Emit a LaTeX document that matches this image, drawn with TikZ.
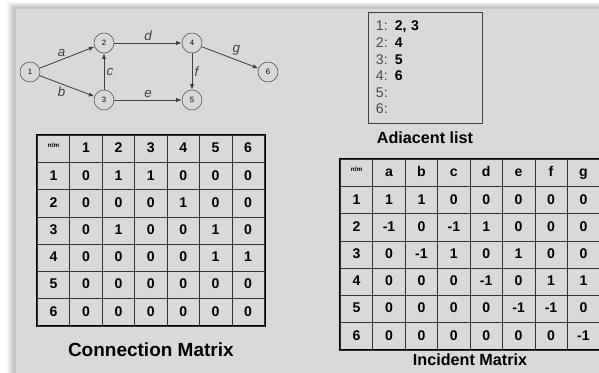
\documentclass[tikz,border=0pt]{standalone}
\usepackage{fontspec}
\setmainfont{Liberation Sans}
\usetikzlibrary{arrows.meta,positioning,matrix}
\definecolor{panelgrey}{HTML}{D9D9D9}
\definecolor{keygrey}{HTML}{4A4A4A}
\tikzset{
  vertex/.style={circle, draw=black!70, thin, fill=panelgrey, minimum size=0.5cm,
    inner sep=0pt, font=\fontsize{5.5}{6}\selectfont},
  arc/.style={-{Latex[length=1.4mm,width=1.1mm]}, semithick, black!75},
  arclabel/.style={font=\itshape\fontsize{9.5}{11}\selectfont, inner sep=1.5pt},
  cell/.style={draw=black!80, line width=0.5pt, minimum width=0.81cm, minimum height=0.68cm,
    text height=7.5pt, text depth=2pt, inner sep=0pt, font=\bfseries\fontsize{10}{12}\selectfont},
  headcell/.style={font=\bfseries\fontsize{4.5}{5}\selectfont},
  tbl/.style={matrix of nodes, draw=black, line width=1.5pt, inner sep=0pt,
    nodes in empty cells, column sep=-0.5pt, row sep=-0.5pt, nodes={cell}},
  listbox/.style={rectangle, draw=black!75, line width=0.6pt, minimum width=2.85cm,
    minimum height=2.775cm, text width=2.45cm, inner xsep=0.2cm, align=left,
    font=\fontsize{10}{11.8}\selectfont},
  caption/.style={font=\bfseries\fontsize{11.5}{13}\selectfont, inner sep=0pt},
  bigcaption/.style={font=\bfseries\fontsize{13.5}{15}\selectfont, inner sep=0pt},
}
\newcommand{\key}[1]{{\color{keygrey}#1:}}

\begin{document}
\begin{tikzpicture}[x=0.025cm, y=-0.025cm]
\useasboundingbox (0,0) rectangle (599,373);

% ---------------- PANEL ----------------
\fill[white] (0,0) rectangle (599,373);
\foreach \d in {1,...,8}
  \fill[black, opacity=0.03] ({15-\d},{8-0.7*\d}) rectangle (599,373);
\fill[panelgrey] (15,8) rectangle (599,373);
\draw[black!22] (15,373) -- (15,8) -- (599,8);

% ---------------- GRAPH ----------------
\node[vertex] (v1) at (30,72)  {1};
\node[vertex] (v2) at (104,43) {2};
\node[vertex] (v3) at (104,100) {3};
\node[vertex] (v4) at (192,43) {4};
\node[vertex] (v5) at (192,100) {5};
\node[vertex] (v6) at (268,72) {6};

\draw[arc] (v1) -- (v2) node[arclabel, pos=0.4, above] {a};
\draw[arc] (v1) -- (v3) node[arclabel, pos=0.4, below] {b};
\draw[arc] (v3) -- (v2) node[arclabel, midway, right] {c};
\draw[arc] (v2) -- (v4) node[arclabel, midway, above] {d};
\draw[arc] (v3) -- (v5) node[arclabel, midway, above] {e};
\draw[arc] (v4) -- (v5) node[arclabel, midway, right] {f};
\draw[arc] (v4) -- (v6) node[arclabel, pos=0.5, above right] {g};

% ---------------- ADIACENT LIST ----------------
\node[listbox] (adj) at (425,67.5)
  {\key{1} \textbf{2, 3}\\
   \key{2} \textbf{4}\\
   \key{3} \textbf{5}\\
   \key{4} \textbf{6}\\
   \key{5}\\
   \key{6}};
\node[caption, below=0.2cm of adj] (adj-cap) {Adiacent list};

% ---------------- CONNECTION MATRIX ----------------
\matrix (conn) [tbl, anchor=north west] at (36,134) {
  |[headcell]| \raisebox{4pt}{n/m} & 1 & 2 & 3 & 4 & 5 & 6 \\
  1 & 0 & 1 & 1 & 0 & 0 & 0 \\
  2 & 0 & 0 & 0 & 1 & 0 & 0 \\
  3 & 0 & 1 & 0 & 0 & 1 & 0 \\
  4 & 0 & 0 & 0 & 0 & 1 & 1 \\
  5 & 0 & 0 & 0 & 0 & 0 & 0 \\
  6 & 0 & 0 & 0 & 0 & 0 & 0 \\
};
\node[bigcaption, below=0.37cm of conn] (conn-cap) {Connection Matrix};

% ---------------- INCIDENT MATRIX ----------------
\matrix (inc) [tbl, anchor=north west] at (339,158) {
  |[headcell]| \raisebox{4pt}{n/m} & a & b & c & d & e & f & g \\
  1 & 1 & 1 & 0 & 0 & 0 & 0 & 0 \\
  2 & -1 & 0 & -1 & 1 & 0 & 0 & 0 \\
  3 & 0 & -1 & 1 & 0 & 1 & 0 & 0 \\
  4 & 0 & 0 & 0 & -1 & 0 & 1 & 1 \\
  5 & 0 & 0 & 0 & 0 & -1 & -1 & 0 \\
  6 & 0 & 0 & 0 & 0 & 0 & 0 & -1 \\
};
\node[caption, below=0.06cm of inc] (inc-cap) {Incident Matrix};

\end{tikzpicture}
\end{document}
